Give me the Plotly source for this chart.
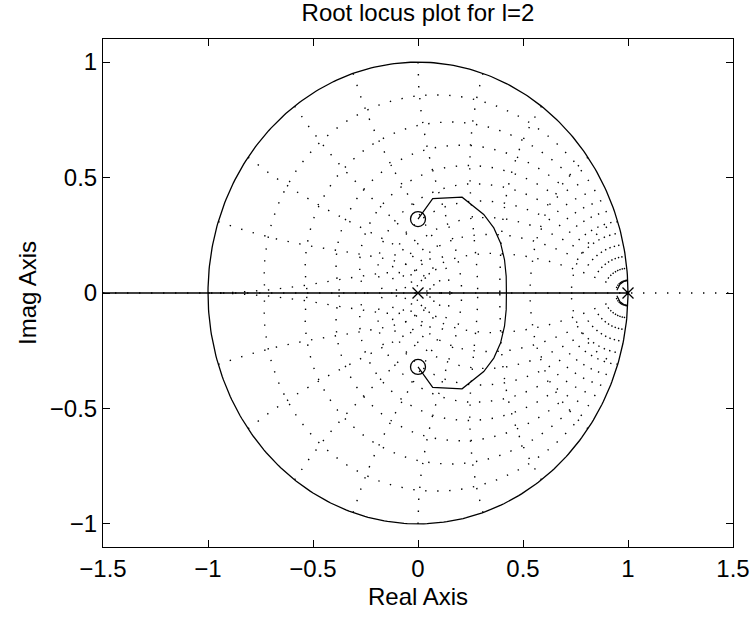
import numpy as np
import plotly.graph_objects as go

# ---- data ----
POLES_X = [0.0, 1.0]
POLES_Y = [0.0, 0.0]
ZEROS_X = [0.0, 0.0]
ZEROS_Y = [0.32, -0.32]

# complex branch (upper half; lower half is its mirror)
LOCUS_UP_X = [0.0, 0.07, 0.21, 0.265, 0.313, 0.361, 0.393, 0.412, 0.42, 0.421]
LOCUS_UP_Y = [0.32, 0.409, 0.415, 0.376, 0.34, 0.282, 0.217, 0.144, 0.072, 0.0]

# real-axis branch
LOCUS_REAL_X = [-1.5, 1.0]
LOCUS_REAL_Y = [0.0, 0.0]

# small branch around the pole at z = 1 (upper half)
ARC_UP_X = [1.0, 0.98, 0.962, 0.95, 0.947]
ARC_UP_Y = [0.054, 0.05, 0.038, 0.021, 0.012]

# z-grid specification
ZETA = [0.1, 0.2, 0.3, 0.4, 0.5, 0.6, 0.7, 0.8, 0.9]
WN_FRAC = [0.1, 0.2, 0.3, 0.4, 0.5, 0.6, 0.7, 0.8, 0.9, 1.0]

X_TICKS = [-1.5, -1, -0.5, 0, 0.5, 1, 1.5]
Y_TICKS = [-1, -0.5, 0, 0.5, 1]

TITLE = "Root locus plot for l=2"
XLABEL = "Real Axis"
YLABEL = "Imag Axis"

FONT = "Liberation Sans, Arial, Helvetica, sans-serif"
FS = 24
DOT = "1.4px,10.6px"

fig = go.Figure()

def add_line(x, y, dash=None, width=1.2):
    fig.add_trace(go.Scatter(
        x=x, y=y, mode="lines", hoverinfo="skip", showlegend=False,
        line=dict(color="black", width=width, dash=dash)))

# zgrid: constant damping curves
theta = np.linspace(0, np.pi, 300)
for z in ZETA:
    r = np.exp(-z * theta / np.sqrt(1 - z * z))
    add_line(r * np.cos(theta), r * np.sin(theta), DOT, 1.4)
    add_line(r * np.cos(theta), -r * np.sin(theta), DOT, 1.4)

# zgrid: constant natural frequency curves
zz = np.linspace(0, 1, 300)
for f in WN_FRAC:
    a = f * np.pi
    r = np.exp(-zz * a)
    ang = a * np.sqrt(1 - zz * zz)
    add_line(r * np.cos(ang), r * np.sin(ang), DOT, 1.4)
    add_line(r * np.cos(ang), -r * np.sin(ang), DOT, 1.4)

# dotted real axis
add_line([X_TICKS[0], X_TICKS[-1]], [0, 0], DOT, 1.4)

# unit circle (zeta = 0)
phi = np.linspace(0, 2 * np.pi, 400)
add_line(np.cos(phi), np.sin(phi), None, 1.3)

# locus branches
add_line(LOCUS_REAL_X, LOCUS_REAL_Y, None, 1.3)
add_line(LOCUS_UP_X, LOCUS_UP_Y, None, 1.2)
add_line(LOCUS_UP_X, [-v for v in LOCUS_UP_Y], None, 1.2)
add_line(ARC_UP_X, ARC_UP_Y, None, 1.2)
add_line(ARC_UP_X, [-v for v in ARC_UP_Y], None, 1.2)

# poles and zeros
fig.add_trace(go.Scatter(
    x=POLES_X, y=POLES_Y, mode="markers", hoverinfo="skip", showlegend=False,
    marker=dict(symbol="x-thin", size=11, color="black",
                line=dict(color="black", width=1.3))))
fig.add_trace(go.Scatter(
    x=ZEROS_X, y=ZEROS_Y, mode="markers", hoverinfo="skip", showlegend=False,
    marker=dict(symbol="circle-open", size=15, color="black",
                line=dict(color="black", width=1.3))))

axis_common = dict(
    showgrid=False, zeroline=False, showline=True, linecolor="black",
    linewidth=1, mirror="ticks", ticks="inside", ticklen=7, tickwidth=1,
    tickcolor="black", tickfont=dict(family=FONT, size=FS, color="black"),
    automargin=False,
)

fig.update_layout(
    width=754, height=623,
    margin=dict(l=103, r=21, t=39, b=76),
    paper_bgcolor="white", plot_bgcolor="white",
    title=dict(text=TITLE, x=(103 + 733) / 2 / 754, xanchor="center",
               y=1 - 4 / 623, yanchor="top", yref="container",
               font=dict(family=FONT, size=FS, color="black")),
    xaxis=dict(range=[-1.5, 1.5], tickvals=X_TICKS,
               title=dict(text=XLABEL, standoff=7,
                          font=dict(family=FONT, size=FS, color="black")),
               **axis_common),
    yaxis=dict(range=[-1.1, 1.1], tickvals=Y_TICKS,
               title=dict(text=YLABEL, standoff=6,
                          font=dict(family=FONT, size=FS, color="black")),
               **axis_common),
)

fig.write_html("out.html", config={"displayModeBar": False},
               post_script="document.body.style.margin='0px';")
